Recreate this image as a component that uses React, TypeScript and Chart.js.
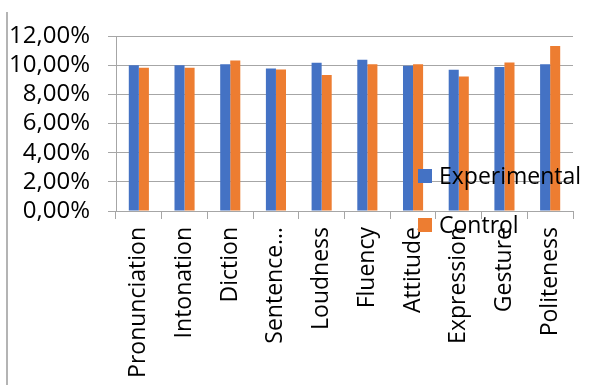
import React, { useEffect, useRef } from "react";
import { Chart, registerables } from "chart.js";

Chart.register(...registerables);

const categories = [
  "Pronunciation",
  "Intonation",
  "Diction",
  "Sentence…",
  "Loudness",
  "Fluency",
  "Attitude",
  "Expression",
  "Gesture",
  "Politeness",
];
const experimental = [10.0, 10.0, 10.07, 9.77, 10.17, 10.38, 9.96, 9.68, 9.87, 10.07];
const control = [9.83, 9.83, 10.32, 9.7, 9.33, 10.07, 10.07, 9.22, 10.19, 11.32];
const seriesNames = ["Experimental", "Control"];
const seriesColors = ["#4472C4", "#ED7D31"];
const yMax = 12;
const yStep = 2;

const FONT = '"Open Sans", "DejaVu Sans", sans-serif';
const GRID = "#a6a6a6";

const legendPlugin = {
  id: "floatingLegend",
  afterDraw(chart: any) {
    const ctx = chart.ctx;
    ctx.save();
    ctx.font = `23px ${FONT}`;
    ctx.textBaseline = "middle";
    ctx.textAlign = "left";
    const items = chart.data.datasets;
    const x0 = 418;
    const ys = [176, 225];
    items.forEach((ds: any, i: number) => {
      const y = ys[i];
      ctx.fillStyle = ds.backgroundColor;
      ctx.fillRect(x0, y - 7, 14, 14);
      ctx.fillStyle = "#000000";
      ctx.fillText(ds.label, x0 + 21, y + 1);
    });
    ctx.restore();
  },
};

export default function App() {
  const ref = useRef<HTMLCanvasElement | null>(null);
  useEffect(() => {
    if (!ref.current) return;
    const chart = new Chart(ref.current, {
      type: "bar",
      data: {
        labels: categories,
        datasets: [
          {
            label: seriesNames[0],
            data: experimental,
            backgroundColor: seriesColors[0],
            categoryPercentage: 0.44,
            barPercentage: 1,
          },
          {
            label: seriesNames[1],
            data: control,
            backgroundColor: seriesColors[1],
            categoryPercentage: 0.44,
            barPercentage: 1,
          },
        ],
      },
      options: {
        responsive: false,
        animation: false,
        devicePixelRatio: 1,
        layout: { padding: { top: 36, right: 33, left: 0, bottom: 0 } },
        plugins: {
          legend: { display: false },
          tooltip: { enabled: false },
        },
        scales: {
          x: {
            grid: {
              drawOnChartArea: false,
              drawTicks: true,
              tickLength: 8,
              color: GRID,
              offset: true,
            },
            border: { display: true, color: GRID },
            ticks: {
              maxRotation: 90,
              minRotation: 90,
              autoSkip: false,
              padding: 8,
              color: "#000000",
              font: { family: FONT, size: 23 },
            },
            afterFit(scale: any) {
              scale.height = 174;
            },
          },
          y: {
            min: 0,
            max: yMax,
            ticks: {
              stepSize: yStep,
              autoSkip: false,
              padding: 18,
              color: "#000000",
              font: { family: FONT, size: 24 },
              callback: (v: any) => Number(v).toFixed(2).replace(".", ",") + "%",
            },
            grid: { color: GRID, tickLength: 8 },
            border: { display: true, color: GRID },
            afterFit(scale: any) {
              scale.width = 116;
            },
          },
        },
      },
      plugins: [legendPlugin],
    });
    return () => chart.destroy();
  }, []);

  return (
    <div style={{ position: "fixed", left: 0, top: 0, width: 606, height: 385, background: "#ffffff" }}>
      <canvas ref={ref} width={606} height={385} style={{ display: "block" }} />
      <div
        style={{
          position: "absolute",
          left: 6,
          top: 12,
          width: 2,
          height: 373,
          background: "#b4b4b4",
        }}
      />
    </div>
  );
}
